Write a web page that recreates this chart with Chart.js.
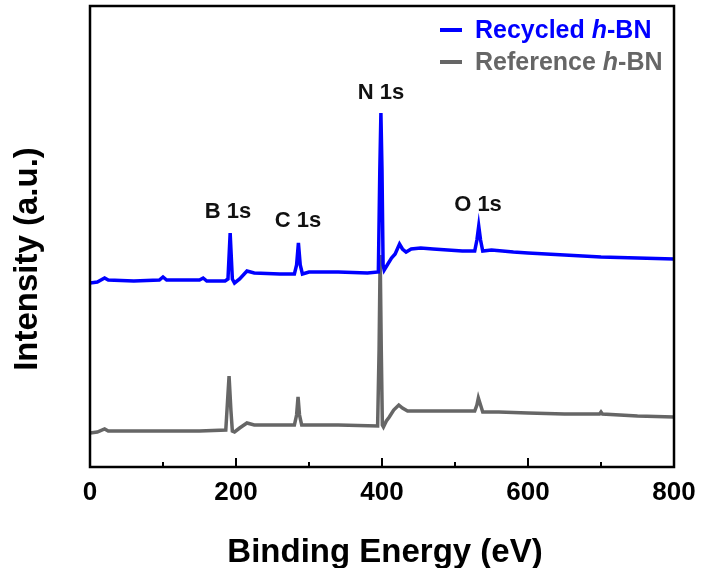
<!DOCTYPE html>
<html>
<head>
<meta charset="utf-8">
<script src="https://cdn.jsdelivr.net/npm/chart.js@4.4.0/dist/chart.umd.min.js"></script>
<style>
  html, body { margin: 0; padding: 0; background: #fff; }
  #wrap { width: 701px; height: 568px; }
</style>
</head>
<body>
<div id="wrap"><canvas id="xps" width="701" height="568"></canvas></div>
<script>
// Recycled h-BN survey spectrum (binding energy eV, intensity a.u.)
const energyRecycled = [0, 10, 20, 25, 60, 95, 100, 105, 150, 155, 160, 185, 189, 192, 195, 198, 205, 215, 225, 260,
  280, 283, 285.5, 288, 291, 300, 340, 380, 395, 397, 398.5, 400, 401.5, 403, 408, 413, 418, 424, 428, 433,
  440, 453, 470, 490, 510, 527, 530, 532.5, 535, 538, 550, 580, 600, 650, 700, 750, 800];
const intensityRecycled = [184, 185, 189, 187, 186, 187, 190, 187, 187, 189, 186, 186, 188, 234, 188, 184, 188, 196, 194, 193,
  193, 202, 224, 202, 193, 195, 195, 194, 195, 297, 354, 297, 202, 197, 203, 209, 213, 223, 218, 215,
  218, 219, 218, 217, 216, 216, 227, 241, 227, 216, 217, 215, 214, 212, 210, 209, 208];

// Reference h-BN survey spectrum
const energyReference = [0, 10, 20, 25, 100, 150, 186, 188.5, 190.5, 193, 195, 198, 205, 215, 225, 280, 283, 285, 287, 290,
  340, 394, 396, 397.5, 399, 400.5, 402, 406, 410, 416, 423, 428, 435, 445, 470, 500, 527, 530, 532, 535,
  538, 560, 600, 650, 698, 700, 702, 750, 800];
const intensityReference = [34, 35, 38, 36, 36, 36, 37, 67, 91, 57, 36, 35, 39, 44, 42, 42, 52, 70, 52, 42,
  42, 41, 117, 212, 117, 42, 40, 46, 50, 57, 62, 59, 56, 56, 56, 56, 56, 62, 69, 62,
  55, 55, 54, 53, 53, 55, 53, 51, 50];

const tickValues = [0, 100, 200, 300, 400, 500, 600, 700, 800];
const tickLabels = ['0', '', '200', '', '400', '', '600', '', '800'];
const seriesNames = ['Recycled', 'Reference'];

const peakLabels = [
  { text: 'B 1s', x: 228, y: 218 },
  { text: 'C 1s', x: 298, y: 227 },
  { text: 'N 1s', x: 381, y: 99 },
  { text: 'O 1s', x: 478, y: 211 }
];

const FONT = '"Liberation Sans", Arial, sans-serif';
const BLUE = '#0000ff';
const GRAY = '#666666';

function toPoints(xs, ys) {
  return xs.map((x, i) => ({ x: x, y: ys[i] }));
}

const decorations = {
  id: 'decorations',
  afterDraw(chart) {
    const ctx = chart.ctx;
    const area = chart.chartArea;
    const xs = chart.scales.x;
    ctx.save();

    // frame
    ctx.strokeStyle = '#000';
    ctx.lineWidth = 2.5;
    ctx.strokeRect(area.left, area.top, area.right - area.left, area.bottom - area.top);

    // inward ticks on bottom axis
    ctx.lineWidth = 2;
    tickValues.forEach((v, i) => {
      const px = xs.getPixelForValue(v);
      const len = tickLabels[i] ? 9 : 5;
      ctx.beginPath();
      ctx.moveTo(px, area.bottom);
      ctx.lineTo(px, area.bottom - len);
      ctx.stroke();
    });

    // peak labels
    ctx.fillStyle = '#111';
    ctx.font = 'bold 22px ' + FONT;
    ctx.textAlign = 'center';
    ctx.textBaseline = 'alphabetic';
    peakLabels.forEach(p => ctx.fillText(p.text, p.x, p.y));

    // legend
    const rows = [
      { name: seriesNames[0], color: BLUE, y: 30 },
      { name: seriesNames[1], color: GRAY, y: 62 }
    ];
    rows.forEach(r => {
      ctx.strokeStyle = r.color;
      ctx.lineWidth = 4;
      ctx.beginPath();
      ctx.moveTo(440, r.y);
      ctx.lineTo(462, r.y);
      ctx.stroke();
      ctx.fillStyle = r.color;
      ctx.textAlign = 'left';
      let x = 475;
      const base = r.y + 8;
      ctx.font = 'bold 25px ' + FONT;
      const a = r.name + ' ';
      ctx.fillText(a, x, base);
      x += ctx.measureText(a).width;
      ctx.font = 'italic bold 25px ' + FONT;
      ctx.fillText('h', x, base);
      x += ctx.measureText('h').width;
      ctx.font = 'bold 25px ' + FONT;
      ctx.fillText('-BN', x, base);
    });

    // axis titles
    ctx.fillStyle = '#000';
    ctx.font = 'bold 33px ' + FONT;
    ctx.textAlign = 'center';
    ctx.fillText('Binding Energy (eV)', 385, 562);
    ctx.translate(37, 259);
    ctx.rotate(-Math.PI / 2);
    ctx.fillText('Intensity (a.u.)', 0, 0);
    ctx.restore();
  }
};

new Chart(document.getElementById('xps'), {
  type: 'line',
  data: {
    datasets: [
      {
        label: seriesNames[0],
        data: toPoints(energyRecycled, intensityRecycled),
        borderColor: BLUE,
        borderWidth: 3.5,
        pointRadius: 0,
        tension: 0
      },
      {
        label: seriesNames[1],
        data: toPoints(energyReference, intensityReference),
        borderColor: GRAY,
        borderWidth: 3.5,
        pointRadius: 0,
        tension: 0
      }
    ]
  },
  options: {
    responsive: false,
    animation: false,
    layout: { padding: { top: 6, right: 27, left: 0, bottom: 0 } },
    plugins: {
      legend: { display: false },
      tooltip: { enabled: false }
    },
    scales: {
      x: {
        type: 'linear',
        min: 0,
        max: 800,
        grid: { display: false, drawTicks: false },
        border: { display: false },
        afterBuildTicks: scale => { scale.ticks = tickValues.map(v => ({ value: v })); },
        afterFit: scale => {
          scale.height = 101;
          scale.paddingLeft = 0;
          scale.paddingRight = 0;
        },
        ticks: {
          autoSkip: false,
          maxRotation: 0,
          padding: 10,
          color: '#000',
          font: { family: FONT, size: 26, weight: 'bold' },
          callback: (v, i) => tickLabels[i]
        }
      },
      y: {
        min: 0,
        max: 461,
        grid: { display: false, drawTicks: false },
        border: { display: false },
        ticks: { display: false },
        afterFit: scale => { scale.width = 90; }
      }
    }
  },
  plugins: [decorations]
});
</script>
</body>
</html>
